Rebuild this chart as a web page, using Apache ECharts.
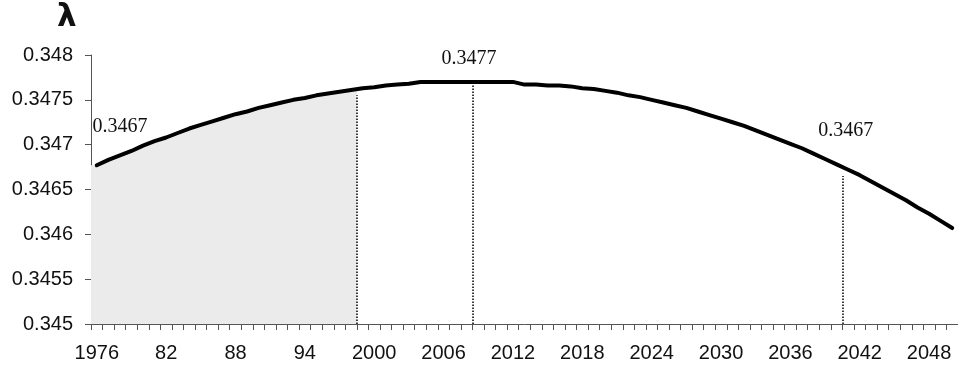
<!DOCTYPE html>
<html>
<head>
<meta charset="utf-8">
<script src="https://cdn.jsdelivr.net/npm/echarts@6/dist/echarts.min.js"></script>
<style>
html, body { margin: 0; padding: 0; background: #fff; }
#chart { width: 958px; height: 369px; }
</style>
</head>
<body>
<div id="chart"></div>
<script>
// years on the category axis
var years = [
	1976, 1977, 1978, 1979, 1980, 1981, 1982, 1983, 1984, 1985,
	1986, 1987, 1988, 1989, 1990, 1991, 1992, 1993, 1994, 1995,
	1996, 1997, 1998, 1999, 2000, 2001, 2002, 2003, 2004, 2005,
	2006, 2007, 2008, 2009, 2010, 2011, 2012, 2013, 2014, 2015,
	2016, 2017, 2018, 2019, 2020, 2021, 2022, 2023, 2024, 2025,
	2026, 2027, 2028, 2029, 2030, 2031, 2032, 2033, 2034, 2035,
	2036, 2037, 2038, 2039, 2040, 2041, 2042, 2043, 2044, 2045,
	2046, 2047, 2048, 2049, 2050
];

// lambda, one value per year
var lambda = [
	0.34677, 0.34683, 0.34688, 0.34693, 0.34699, 0.34704, 0.34708, 0.34713, 0.34718, 0.34722,
	0.34726, 0.34730, 0.34734, 0.34737, 0.34741, 0.34744, 0.34747, 0.34750, 0.34752, 0.34755,
	0.34757, 0.34759, 0.34761, 0.34763, 0.34764, 0.34766, 0.34767, 0.34768, 0.34770, 0.34770,
	0.34770, 0.34770, 0.34770, 0.34770, 0.34770, 0.34770, 0.34770, 0.34767, 0.34767, 0.34766,
	0.34766, 0.34765, 0.34763, 0.34762, 0.34760, 0.34758, 0.34755, 0.34753, 0.34750, 0.34747,
	0.34744, 0.34741, 0.34737, 0.34733, 0.34729, 0.34725, 0.34721, 0.34716, 0.34711, 0.34706,
	0.34701, 0.34696, 0.34690, 0.34684, 0.34678, 0.34672, 0.34666, 0.34659, 0.34652, 0.34645,
	0.34638, 0.34630, 0.34623, 0.34615, 0.34607
];

// shaded (observed) period
var shadeLastYear = 1998;

// dotted drop lines: x (between two years) and top value
var dropX = [1998.5, 2008.5, 2040.5];
var dropTop = [0.34755, 0.34770, 0.34665];

// annotation texts and their anchors
var noteText = ["0.3467", "0.3477", "0.3467"];
var noteX = [1978, 2008.2, 2040.8];
var noteY = [0.34720, 0.34796, 0.34716];

var chart = echarts.init(document.getElementById("chart"), null, { renderer: "canvas" });

// shade series on the hidden value axis so it starts/ends on category boundaries
var shadeData = [[years[0] - 0.5, lambda[0]]];
years.forEach(function (y, i) {
	if (y <= shadeLastYear) shadeData.push([y, lambda[i]]);
});
var lastIdx = years.indexOf(shadeLastYear);
shadeData.push([shadeLastYear + 0.5, lambda[lastIdx]]);

var yMin = 0.345;

var dropLines = dropX.map(function (x, i) {
	return [{ coord: [x, yMin] }, { coord: [x, dropTop[i]] }];
});

var notes = noteText.map(function (t, i) {
	return { name: t, coord: [noteX[i], noteY[i]] };
});

var axisColor = "#555";
var labelFont = "'Liberation Sans', Arial, sans-serif";

var option = {
	animation: false,
	title: {
		text: "λ",
		left: 52,
		top: -3,
		textStyle: {
			fontFamily: "'DejaVu Sans', sans-serif",
			fontSize: 31,
			fontWeight: "bold",
			color: "#111"
		}
	},
	grid: {
		left: 91,
		right: -4,
		top: 55,
		bottom: 45
	},
	xAxis: [
		{
			type: "category",
			data: years,
			boundaryGap: true,
			axisLine: { show: true, lineStyle: { color: axisColor, width: 1 } },
			axisTick: { show: true, interval: 0, length: 6, lineStyle: { color: axisColor } },
			axisLabel: {
				interval: 5,
				margin: 19,
				fontFamily: labelFont,
				fontSize: 20,
				color: "#111",
				formatter: function (v) {
					var y = +v;
					if (y > 1976 && y < 2000) return String(y).slice(2);
					return String(y);
				}
			},
			splitLine: { show: false }
		},
		{
			type: "value",
			min: years[0] - 0.5,
			max: years[years.length - 1] + 0.5,
			show: false
		}
	],
	yAxis: {
		type: "value",
		min: yMin,
		max: 0.348,
		interval: 0.0005,
		axisLine: { show: true, lineStyle: { color: axisColor, width: 1 } },
		axisTick: { show: true, length: 6, lineStyle: { color: axisColor } },
		axisLabel: {
			margin: 18,
			fontFamily: labelFont,
			fontSize: 20,
			color: "#111",
			formatter: function (v) {
				return String(+v.toFixed(4));
			}
		},
		splitLine: { show: false }
	},
	series: [
		{
			name: "shade",
			type: "line",
			xAxisIndex: 1,
			data: shadeData,
			showSymbol: false,
			symbol: "none",
			lineStyle: { width: 0, opacity: 0 },
			areaStyle: { color: "#ebebeb", opacity: 1, origin: "start" },
			z: 1,
			silent: true,
			markLine: {
				silent: true,
				symbol: ["none", "none"],
				label: { show: false },
				lineStyle: { type: "dotted", color: "#000", width: 1.5 },
				data: dropLines
			},
			markPoint: {
				silent: true,
				symbol: "circle",
				symbolSize: 0,
				label: {
					show: true,
					position: "inside",
					formatter: function (p) { return p.name; },
					fontFamily: "'Liberation Serif', 'Times New Roman', serif",
					fontSize: 20,
					color: "#111"
				},
				data: notes
			}
		},
		{
			name: "lambda",
			type: "line",
			data: lambda,
			showSymbol: false,
			symbol: "none",
			lineStyle: { color: "#000", width: 4, cap: "round", join: "round" },
			z: 5
		}
	]
};
chart.setOption(option);
</script>
</body>
</html>
